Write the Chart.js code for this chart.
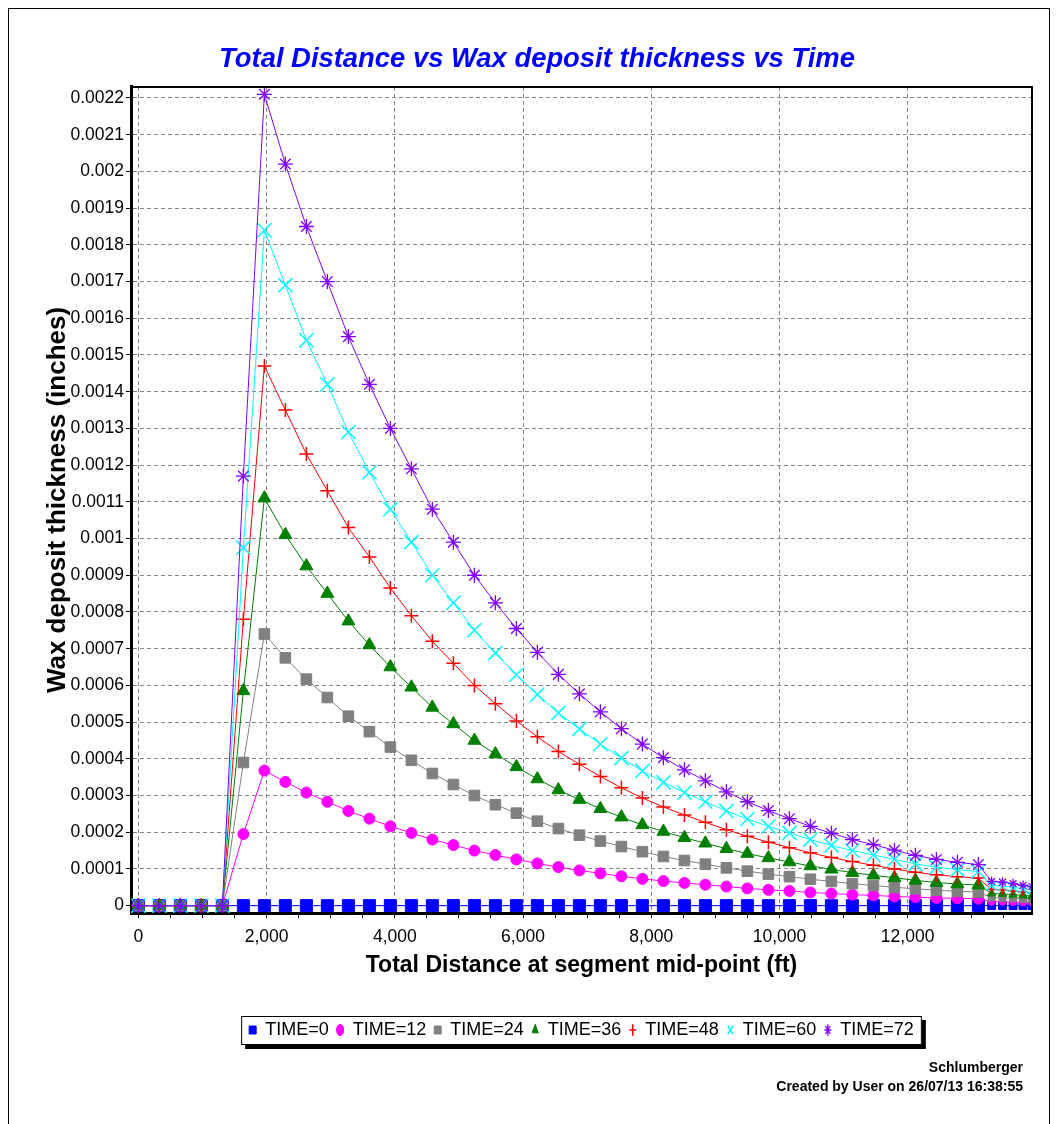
<!DOCTYPE html>
<html>
<head>
<meta charset="utf-8">
<title>Total Distance vs Wax deposit thickness vs Time</title>
<script src="https://cdn.jsdelivr.net/npm/chart.js@4.4.0/dist/chart.umd.min.js"></script>
<style>
  html, body { margin: 0; padding: 0; background: #fff; overflow: hidden; }
  #frame { position: absolute; left: 8px; top: 8px; width: 1040px; height: 1200px; border: 1px solid #000; }
  #wrap { position: absolute; left: 0; top: 0; width: 1057px; height: 1124px; }
  #footer { position: absolute; right: 34px; top: 1058px; font: bold 14px "Liberation Sans", Arial, sans-serif; line-height: 19px; text-align: right; color: #000; }
</style>
</head>
<body>
<div id="frame"></div>
<div id="wrap"><canvas id="wax" width="1057" height="1124"></canvas></div>
<div id="footer">Schlumberger<br>Created by User on 26/07/13 16:38:55</div>
<script>
// segment mid-point distances (ft)
var distance = [0, 328, 655, 983, 1310, 1638, 1966, 2293, 2621, 2948,
  3276, 3604, 3931, 4259, 4586, 4914, 5242, 5569, 5897, 6224,
  6552, 6880, 7207, 7535, 7862, 8190, 8518, 8845, 9173, 9500,
  9828, 10156, 10483, 10811, 11138, 11466, 11794, 12121, 12449, 12776,
  13104, 13310, 13480, 13645, 13800, 13940];

// wax deposit thickness (inches) per time step
var time0 = [0, 0, 0, 0, 0, 0, 0, 0, 0, 0,
  0, 0, 0, 0, 0, 0, 0, 0, 0, 0,
  0, 0, 0, 0, 0, 0, 0, 0, 0, 0,
  0, 0, 0, 0, 0, 0, 0, 0, 0, 0,
  0, 0, 0, 0, 0, 0];
var time12 = [0, 0, 0, 0, 0, 0.000195, 0.000368, 0.000337, 0.000308, 0.000283,
  0.000258, 0.000237, 0.000216, 0.000198, 0.00018, 0.000165, 0.00015, 0.000138, 0.000126, 0.000115,
  0.000105, 0.000096, 0.000088, 0.00008, 0.000073, 0.000067, 0.000062, 0.000057, 0.000052, 0.000047,
  0.000043, 0.00004, 0.000036, 0.000033, 0.00003, 0.000028, 0.000025, 0.000023, 0.000021, 0.00002,
  0.000019, 0.000011, 0.000011, 0.00001, 0.000009, 0.000009];
var time24 = [0, 0, 0, 0, 0, 0.00039, 0.00074, 0.000675, 0.000617, 0.000567,
  0.000516, 0.000474, 0.000432, 0.000396, 0.00036, 0.00033, 0.0003, 0.000275, 0.000252, 0.00023,
  0.00021, 0.000192, 0.000176, 0.000161, 0.000147, 0.000134, 0.000123, 0.000113, 0.000103, 0.000094,
  0.000086, 0.000079, 0.000072, 0.000066, 0.00006, 0.000055, 0.00005, 0.000046, 0.000042, 0.000039,
  0.000037, 0.000022, 0.000021, 0.00002, 0.000018, 0.000017];
var time36 = [0, 0, 0, 0, 0, 0.000585, 0.00111, 0.00101, 0.000925, 0.00085,
  0.000775, 0.00071, 0.00065, 0.000595, 0.00054, 0.000495, 0.00045, 0.000413, 0.000378, 0.000345,
  0.000315, 0.000289, 0.000264, 0.000241, 0.00022, 0.000202, 0.000185, 0.00017, 0.000155, 0.000142,
  0.00013, 0.000119, 0.000108, 0.000099, 0.00009, 0.000083, 0.000076, 0.000069, 0.000063, 0.000059,
  0.000056, 0.000033, 0.000032, 0.00003, 0.000028, 0.000026];
var time48 = [0, 0, 0, 0, 0, 0.00078, 0.00147, 0.00135, 0.00123, 0.00113,
  0.00103, 0.00095, 0.000865, 0.00079, 0.00072, 0.00066, 0.0006, 0.00055, 0.000503, 0.00046,
  0.00042, 0.000385, 0.000352, 0.000321, 0.000293, 0.000269, 0.000247, 0.000227, 0.000207, 0.000189,
  0.000173, 0.000158, 0.000144, 0.000131, 0.00012, 0.00011, 0.0001, 0.000091, 0.000084, 0.000079,
  0.000075, 0.000044, 0.000043, 0.00004, 0.000037, 0.000035];
var time60 = [0, 0, 0, 0, 0, 0.000975, 0.00184, 0.00169, 0.00154, 0.00142,
  0.00129, 0.00118, 0.00108, 0.00099, 0.0009, 0.000825, 0.00075, 0.000688, 0.000629, 0.000575,
  0.000525, 0.000481, 0.00044, 0.000402, 0.000367, 0.000336, 0.000308, 0.000283, 0.000258, 0.000236,
  0.000216, 0.000198, 0.00018, 0.000164, 0.00015, 0.000138, 0.000126, 0.000114, 0.000105, 0.000098,
  0.000093, 0.000055, 0.000053, 0.00005, 0.000046, 0.000043];
var time72 = [0, 0, 0, 0, 0, 0.00117, 0.00221, 0.00202, 0.00185, 0.0017,
  0.00155, 0.00142, 0.0013, 0.00119, 0.00108, 0.00099, 0.0009, 0.000825, 0.000755, 0.00069,
  0.00063, 0.000577, 0.000528, 0.000482, 0.00044, 0.000403, 0.00037, 0.00034, 0.00031, 0.000283,
  0.000259, 0.000237, 0.000216, 0.000197, 0.00018, 0.000166, 0.000151, 0.000137, 0.000126, 0.000118,
  0.000112, 0.000066, 0.000064, 0.00006, 0.000055, 0.000052];

var seriesNames = ["TIME=0", "TIME=12", "TIME=24", "TIME=36", "TIME=48", "TIME=60", "TIME=72"];
var seriesValues = [time0, time12, time24, time36, time48, time60, time72];

// tick labels
var xTickLabels = [0, 2000, 4000, 6000, 8000, 10000, 12000];
var yTicks = [0, 0.0001, 0.0002, 0.0003, 0.0004, 0.0005, 0.0006, 0.0007, 0.0008, 0.0009, 0.001,
  0.0011, 0.0012, 0.0013, 0.0014, 0.0015, 0.0016, 0.0017, 0.0018, 0.0019, 0.002, 0.0021, 0.0022];

// styles
var colors = ["#0000ff", "#ff00ff", "#808080", "#008000", "#ff0000", "#00ffff", "#8000ff"];
var markers = ["rect", "circle", "rect", "triangle", "cross", "crossRot", "star"];
var markerSize = [8.5, 5.5, 7.5, 7.5, 7, 10, 7.5];
var markerLine = [1, 1, 1, 1, 1.5, 1.5, 1.3];

Chart.defaults.font.family = '"Liberation Sans", Arial, sans-serif';
Chart.defaults.color = "#000";

var datasets = seriesNames.map(function (name, i) {
  return {
    label: name,
    data: distance.map(function (d, j) { return { x: d, y: seriesValues[i][j] }; }),
    borderColor: colors[i],
    backgroundColor: colors[i],
    borderWidth: 1,
    pointStyle: markers[i],
    pointBackgroundColor: colors[i],
    pointBorderColor: colors[i],
    pointBorderWidth: markerLine[i],
    pointRadius: function (c) { return c.raw && c.raw.x > 13200 ? markerSize[i] * 0.65 : markerSize[i]; },
    tension: 0,
    order: seriesNames.length - 1 - i   // last series drawn on top
  };
});

// legend frame with shadow, and top/right lines of the plot box
var framePlugin = {
  id: "frame",
  beforeDraw: function (chart) {
    var lg = chart.legend, hb = lg.legendHitBoxes;
    if (!hb || !hb.length) return;
    var ctx = chart.ctx;
    var l = hb[0].left - 8, r = hb[hb.length - 1].left + hb[hb.length - 1].width + 8;
    var mid = hb[0].top + hb[0].height / 2;
    var t = mid - 14, b = mid + 15;
    ctx.save();
    ctx.fillStyle = "#000";
    ctx.fillRect(l + 4, t + 4, r - l, b - t);
    ctx.fillStyle = "#fff";
    ctx.fillRect(l, t, r - l, b - t);
    ctx.strokeStyle = "#000";
    ctx.lineWidth = 1;
    ctx.strokeRect(l + 0.5, t + 0.5, r - l - 1, b - t - 1);
    ctx.restore();
  },
  afterDatasetsDraw: function (chart) {
    var a = chart.chartArea, ctx = chart.ctx;
    ctx.save();
    ctx.strokeStyle = "#000";
    ctx.lineWidth = 2;
    ctx.beginPath();
    ctx.moveTo(a.left, a.top);
    ctx.lineTo(a.right, a.top);
    ctx.lineTo(a.right, a.bottom);
    ctx.stroke();
    ctx.restore();
  }
};

var config = {
  type: "line",
  data: { datasets: datasets },
  options: {
    responsive: false,
    animation: false,
    events: [],
    devicePixelRatio: 1,
    layout: { padding: { left: 42, right: 25, top: 0, bottom: 75 } },
    plugins: {
      title: {
        display: true,
        text: "Total Distance vs Wax deposit thickness vs Time",
        color: "#0000ff",
        font: { size: 27.4, weight: "bold", style: "italic" },
        padding: { top: 43, bottom: 11.1 }
      },
      legend: {
        position: "bottom",
        fullSize: false,
        labels: {
          usePointStyle: true,
          pointStyleWidth: 7,
          boxHeight: 8,
          padding: 8,
          color: "#000",
          font: { size: 18 },
          sort: function (a, b) { return a.datasetIndex - b.datasetIndex; }
        }
      },
      tooltip: { enabled: false }
    },
    scales: {
      x: {
        type: "linear",
        min: -115,
        max: 13940,
        afterBuildTicks: function (s) {
          var t = [];
          for (var v = 0; v <= 13500; v += 500) t.push({ value: v });
          s.ticks = t;
        },
        afterFit: function (s) { s.height = 100; },
        ticks: {
          autoSkip: false,
          maxRotation: 0,
          minRotation: 0,
          padding: 9,
          color: "#000",
          font: { size: 17.5 },
          callback: function (v) { return xTickLabels.indexOf(v) >= 0 ? v.toLocaleString("en-US") : ""; }
        },
        grid: {
          color: function (c) { return c.tick && xTickLabels.indexOf(c.tick.value) >= 0 ? "#858585" : "rgba(0,0,0,0)"; },
          lineWidth: 1,
          tickColor: "#000",
          tickLength: 5,
          tickWidth: 1
        },
        border: { display: true, color: "#000", width: 3, dash: [4, 3] },
        title: {
          display: true,
          text: "Total Distance at segment mid-point (ft)",
          color: "#000",
          font: { size: 23, weight: "bold" },
          padding: { top: 0, bottom: 34 }
        }
      },
      y: {
        type: "linear",
        min: -0.00002,
        max: 0.00223,
        afterBuildTicks: function (s) { s.ticks = yTicks.map(function (v) { return { value: v }; }); },
        afterFit: function (s) { s.width = 89; },
        ticks: {
          autoSkip: false,
          padding: 2,
          color: "#000",
          font: { size: 17.5 },
          callback: function (v) { return String(parseFloat(v.toFixed(5))); }
        },
        grid: { color: "#858585", lineWidth: 1, tickColor: "#000", tickLength: 5, tickWidth: 1 },
        border: { display: true, color: "#000", width: 3, dash: [4, 3] },
        title: {
          display: true,
          text: "Wax deposit thickness (inches)",
          color: "#000",
          font: { size: 26, weight: "bold" },
          padding: { top: 0, bottom: 0 }
        }
      }
    }
  },
  plugins: [framePlugin]
};

var waxChart = new Chart(document.getElementById("wax"), config);
</script>
</body>
</html>
